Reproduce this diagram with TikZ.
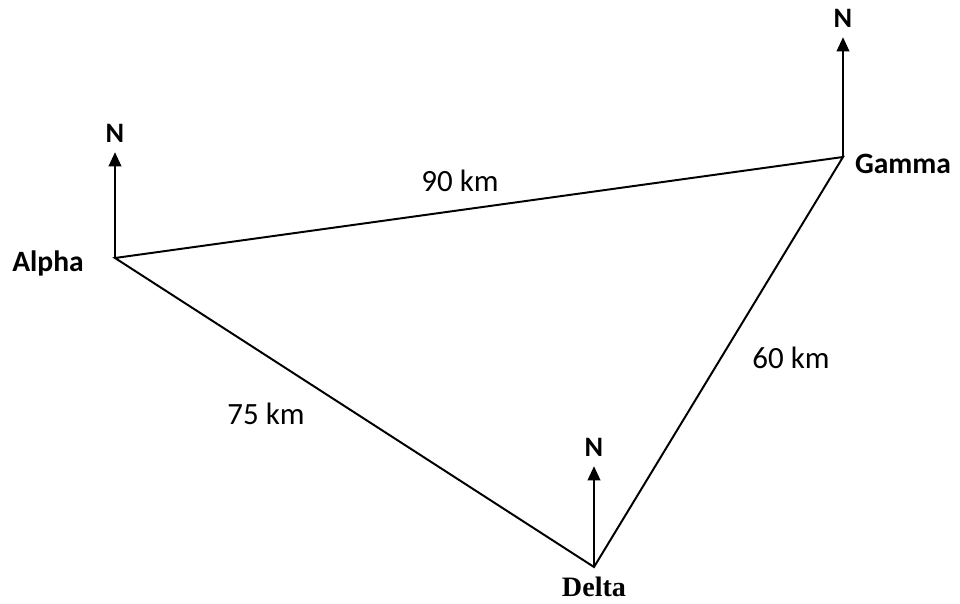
\documentclass[tikz,border=0pt]{standalone}
\usepackage{fontspec}
\setmainfont{Carlito}
\newfontfamily\deltafont{Liberation Serif}
\usepackage{tikz}
\usetikzlibrary{arrows.meta, positioning}

\begin{document}
\begin{tikzpicture}[x=0.025cm, y=-0.025cm,
  leg/.style={line width=1.4pt},
  north/.style={line width=1.1pt, -{Triangle[length=10pt, width=9pt]}, shorten >=7pt},
  place/.style={font=\fontsize{21}{24}\selectfont\bfseries, inner sep=0pt},
  dist/.style={font=\fontsize{22}{25}\selectfont, inner sep=0pt}]
  \useasboundingbox (0,0) rectangle (960,604);

  % Stations
  \coordinate (alpha) at (115,258);
  \coordinate (gamma) at (843,157);
  \coordinate (delta) at (594,567);

  % North arrows
  \node[place, font=\fontsize{20}{22}\selectfont\bfseries] (nA) at (115,133) {N};
  \node[place, font=\fontsize{20}{22}\selectfont\bfseries] (nG) at (843,18) {N};
  \node[place, font=\fontsize{20}{22}\selectfont\bfseries] (nD) at (594,447) {N};
  \draw[north] (alpha) -- (nA.south);
  \draw[north] (gamma) -- (nG.south);
  \draw[north] (delta) -- (nD.south);

  % Triangle
  \draw[leg] (alpha) -- (gamma) -- (delta) -- cycle;

  % Labels
  \node[place] (lA) at (48,263) {Alpha};
  \node[place] (lG) at (903,164) {Gamma};
  \node[place, font=\fontsize{20}{22}\selectfont\deltafont\bfseries] (lD) at (594,587) {Delta};
  \node[dist] (dAG) at (460,181) {90 km};
  \node[dist] (dGD) at (791,358) {60 km};
  \node[dist] (dAD) at (266,414) {75 km};
\end{tikzpicture}
\end{document}
